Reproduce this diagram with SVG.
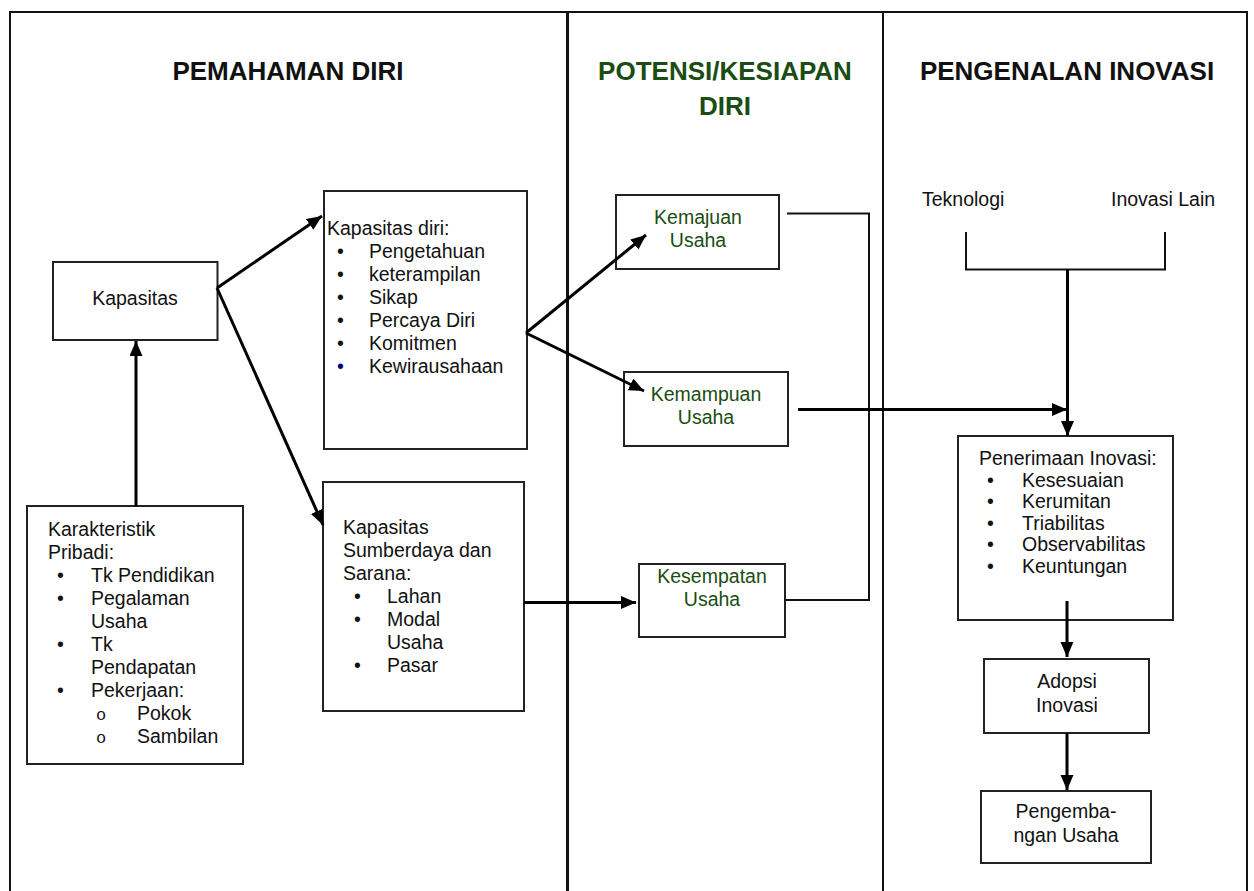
<svg xmlns="http://www.w3.org/2000/svg" width="1254" height="891" viewBox="0 0 1254 891">
<defs>
<marker id="ah" markerWidth="16" markerHeight="14" refX="15" refY="6.5" orient="auto" markerUnits="userSpaceOnUse"><path d="M0,0 L15,6.5 L0,13 z" fill="#000"/></marker>
</defs>
<style>
text{font-family:"Liberation Sans",Arial,sans-serif;font-size:19.5px;fill:#111}
.h{font-size:26px;font-weight:bold;text-anchor:middle}
.g{fill:#1a4d12}
.c{text-anchor:middle}
.o{font-family:"Liberation Mono","Courier New",monospace;font-size:17px}
.box{fill:#fff;stroke:#222;stroke-width:2}
.frame{fill:none;stroke:#111;stroke-width:2}
.ar{fill:none;stroke:#000;stroke-width:3}
.ln{fill:none;stroke:#111;stroke-width:2}
.blue{fill:#000080}
</style>
<rect width="1254" height="891" fill="#fff"/>
<g id="frame">
<path class="frame" d="M10,900 V12 H1247 V900"/>
<line x1="567.5" y1="12" x2="567.5" y2="900" stroke="#111" stroke-width="3"/>
<line x1="883" y1="12" x2="883" y2="900" stroke="#111" stroke-width="2"/>
<text class="h" x="288" y="80">PEMAHAMAN DIRI</text>
<text class="h g" x="725" y="80">POTENSI/KESIAPAN</text>
<text class="h g" x="725" y="115">DIRI</text>
<text class="h" x="1067" y="80">PENGENALAN INOVASI</text>
</g>
<g id="kapasitas">
<rect class="box" x="53" y="262" width="164.5" height="78"/>
<text class="c" x="135" y="305">Kapasitas</text>
</g>
<g id="karakteristik">
<rect class="box" x="27" y="506" width="216" height="258"/>
<text x="48" y="536">Karakteristik</text>
<text x="48" y="559">Pribadi:</text>
<text x="57" y="582">•</text><text x="91" y="582">Tk Pendidikan</text>
<text x="57" y="605">•</text><text x="91" y="605">Pegalaman</text>
<text x="91" y="628">Usaha</text>
<text x="57" y="651">•</text><text x="91" y="651">Tk</text>
<text x="91" y="674">Pendapatan</text>
<text x="57" y="697">•</text><text x="91" y="697">Pekerjaan:</text>
<text class="o" x="96" y="720">o</text><text x="137" y="720">Pokok</text>
<text class="o" x="96" y="743">o</text><text x="137" y="743">Sambilan</text>
</g>
<g id="kapasitas-diri">
<rect class="box" x="324" y="191" width="203" height="258"/>
<text x="327" y="235">Kapasitas diri:</text>
<text x="337" y="258">•</text><text x="369" y="258">Pengetahuan</text>
<text x="337" y="281">•</text><text x="369" y="281">keterampilan</text>
<text x="337" y="304">•</text><text x="369" y="304">Sikap</text>
<text x="337" y="327">•</text><text x="369" y="327">Percaya Diri</text>
<text x="337" y="350">•</text><text x="369" y="350">Komitmen</text>
<text x="337" y="373" class="blue">•</text><text x="369" y="373">Kewirausahaan</text>
</g>
<g id="kapasitas-sumberdaya">
<rect class="box" x="323" y="482" width="201" height="229"/>
<text x="343" y="534">Kapasitas</text>
<text x="343" y="557">Sumberdaya dan</text>
<text x="343" y="580">Sarana:</text>
<text x="354" y="603">•</text><text x="387" y="603">Lahan</text>
<text x="354" y="626">•</text><text x="387" y="626">Modal</text>
<text x="387" y="649">Usaha</text>
<text x="354" y="672">•</text><text x="387" y="672">Pasar</text>
</g>
<g id="kemajuan">
<rect class="box" x="616" y="195" width="163" height="74"/>
<text class="c g" x="698" y="224">Kemajuan</text>
<text class="c g" x="698" y="247">Usaha</text>
</g>
<g id="kemampuan">
<rect class="box" x="624" y="372" width="164" height="74"/>
<text class="c g" x="706" y="401">Kemampuan</text>
<text class="c g" x="706" y="424">Usaha</text>
</g>
<g id="kesempatan">
<rect class="box" x="639" y="564" width="146" height="73"/>
<text class="c g" x="712" y="583">Kesempatan</text>
<text class="c g" x="712" y="606">Usaha</text>
</g>
<g id="teknologi">
<text x="922" y="206">Teknologi</text>
</g>
<g id="inovasi-lain">
<text x="1111" y="206">Inovasi Lain</text>
</g>
<g id="penerimaan">
<rect class="box" x="958" y="436" width="215" height="184"/>
<text x="979" y="465">Penerimaan Inovasi:</text>
<text x="987" y="486.5">•</text><text x="1022" y="486.5">Kesesuaian</text>
<text x="987" y="508">•</text><text x="1022" y="508">Kerumitan</text>
<text x="987" y="529.5">•</text><text x="1022" y="529.5">Triabilitas</text>
<text x="987" y="551">•</text><text x="1022" y="551">Observabilitas</text>
<text x="987" y="572.5">•</text><text x="1022" y="572.5">Keuntungan</text>
</g>
<g id="adopsi">
<rect class="box" x="984" y="659" width="165" height="74"/>
<text class="c" x="1067" y="688">Adopsi</text>
<text class="c" x="1067" y="712">Inovasi</text>
</g>
<g id="pengembangan">
<rect class="box" x="981" y="791" width="170" height="72"/>
<text class="c" x="1066" y="818">Pengemba-</text>
<text class="c" x="1066" y="842">ngan Usaha</text>
</g>
<g id="connectors">
<line class="ar" x1="136" y1="506" x2="136" y2="341" marker-end="url(#ah)"/>
<line class="ar" x1="217" y1="288" x2="322" y2="216" marker-end="url(#ah)"/>
<line class="ar" x1="217" y1="288" x2="323" y2="525" marker-end="url(#ah)"/>
<line class="ar" x1="526" y1="333" x2="646" y2="235" marker-end="url(#ah)"/>
<line class="ar" x1="526" y1="333" x2="644" y2="391" marker-end="url(#ah)"/>
<line class="ar" x1="524" y1="602.5" x2="636" y2="602.5" marker-end="url(#ah)"/>
<polyline class="ln" points="787,213.5 869,213.5 869,600 785,600"/>
<line class="ar" x1="798" y1="409.5" x2="1067" y2="409.5" marker-end="url(#ah)"/>
<polyline class="ln" points="966,232 966,269.5 1165,269.5 1165,232"/>
<line class="ar" x1="1067.5" y1="269.5" x2="1067.5" y2="436" marker-end="url(#ah)"/>
<line class="ar" x1="1067" y1="601" x2="1067" y2="657" marker-end="url(#ah)"/>
<line class="ar" x1="1067" y1="733" x2="1067" y2="790" marker-end="url(#ah)"/>
</g>
</svg>
